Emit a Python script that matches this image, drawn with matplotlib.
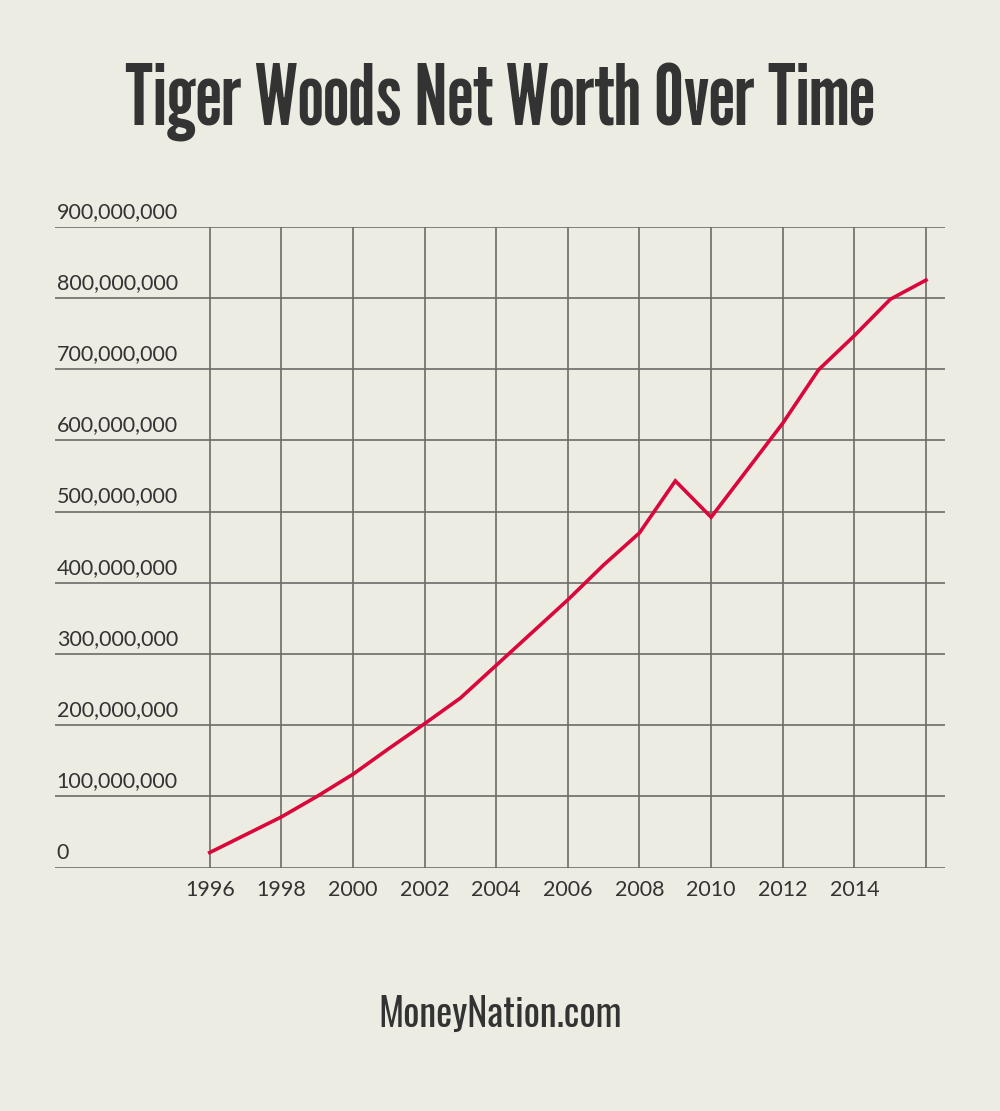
#!/usr/bin/env python3
"""
Tiger Woods 身价折线图（MoneyNation 风格复刻）
"""

import matplotlib
matplotlib.use('Agg')
import matplotlib.pyplot as plt
from matplotlib.ticker import FixedLocator

YEARS = [1996, 1997, 1998, 1999, 2000, 2001, 2002, 2003, 2004, 2005, 2006,
         2007, 2008, 2009, 2010, 2011, 2012, 2013, 2014, 2015, 2016]
NET_WORTH = [21e6, 46e6, 71e6, 100e6, 131e6, 167e6, 202e6, 238e6, 284e6, 330e6,
             376e6, 425e6, 470e6, 543e6, 492e6, 558e6, 624e6, 699e6, 747e6,
             798e6, 825e6]
Y_TICKS = [0, 100e6, 200e6, 300e6, 400e6, 500e6, 600e6, 700e6, 800e6, 900e6]
X_GRID = list(range(1996, 2017, 2))
X_LABELS = ["1996", "1998", "2000", "2002", "2004", "2006", "2008", "2010",
            "2012", "2014", ""]

BG = '#EDECE2'
INK = '#333333'
GRID = '#6C6C67'
LINE = '#D9073C'
TITLE_FONT = ['League Gothic', 'Oswald', 'Pathway Gothic One', 'DejaVu Sans']
FOOT_FONT = ['Oswald', 'League Gothic', 'DejaVu Sans']
LABEL_FONT = ['Lato', 'Open Sans', 'DejaVu Sans']

W, H = 1000, 1111


def main():
    fig = plt.figure(figsize=(W / 100, H / 100), dpi=100, facecolor=BG)
    # 像素 -> 比例：左 55、右 945、上 226.7、下 867.5
    ax = fig.add_axes([55 / W, (H - 867.5) / H, 890 / W, (867.5 - 226.7) / H])
    ax.set_facecolor(BG)

    ax.set_xlim(1991.68, 2016.53)
    ax.set_ylim(0, 900e6)
    for s in ax.spines.values():
        s.set_visible(False)

    # 网格：横线铺满，竖线只在年份上
    for v in Y_TICKS:
        ax.axhline(v, color=GRID, lw=1.2, zorder=1)
    ax.vlines(X_GRID, 0, 900e6, color=GRID, lw=1.2, zorder=1)

    ax.plot(YEARS, NET_WORTH, color=LINE, lw=2.6, zorder=3,
            solid_joinstyle='miter')

    ax.xaxis.set_major_locator(FixedLocator(X_GRID))
    ax.set_xticklabels(X_LABELS, family=LABEL_FONT, fontsize=15.5, color=INK)
    ax.tick_params(axis='x', length=0, pad=9)
    ax.set_yticks([])

    for v in Y_TICKS:
        ax.text(0.002, v + 7e6, f"{int(v):,}", transform=ax.get_yaxis_transform(),
                ha='left', va='bottom', family=LABEL_FONT, fontsize=15.5, color=INK)

    fig.text(0.5, 1 - 126 / H, "Tiger Woods Net Worth Over Time", ha='center',
             va='baseline', family=TITLE_FONT, fontsize=61, color=INK)
    fig.text(0.5, 1 - 1027 / H, "MoneyNation.com", ha='center', va='baseline',
             family=FOOT_FONT, weight='bold', fontsize=27.5, color=INK)

    fig.savefig("out.png", dpi=100, facecolor=BG)
    plt.close(fig)


if __name__ == "__main__":
    main()
